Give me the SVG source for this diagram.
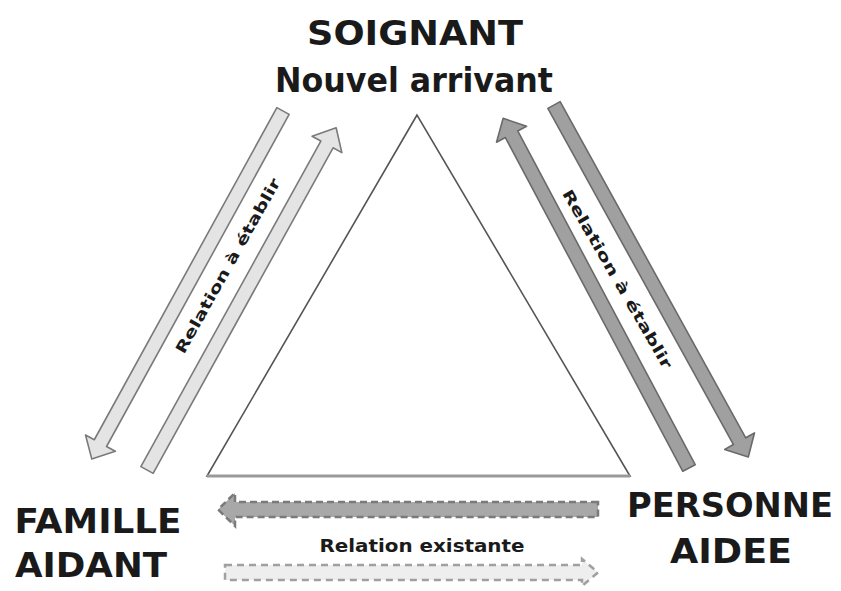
<svg xmlns="http://www.w3.org/2000/svg" width="841" height="591" viewBox="0 0 841 591">
<style>
.t{font-family:"DejaVu Sans","Liberation Sans",sans-serif;font-weight:bold;fill:#1a1a1a;text-anchor:middle}
.big{font-size:33px}
.lbl{font-size:15px}
.light{fill:#e4e4e4;stroke:#7a7a7a;stroke-width:1.6;stroke-linejoin:round}
.dark{fill:#a0a0a0;stroke:#6a6a6a;stroke-width:1.6;stroke-linejoin:round}
.dash1{fill:#a8a8a8;stroke:#7a7a7a;stroke-width:2.5;stroke-dasharray:7 4}
.dash2{fill:#eeeeee;stroke:#a0a0a0;stroke-width:2.5;stroke-dasharray:7 5}
</style>
<rect width="841" height="591" fill="#ffffff"/>
<g id="triangle">
<polygon points="417,115 207,476 630,476" fill="#ffffff" stroke="#555555" stroke-width="1.6"/>
<line x1="207" y1="476" x2="630" y2="476" stroke="#999999" stroke-width="3"/>
</g>
<g id="soignant">
<text class="t big" x="415" y="45" textLength="216" lengthAdjust="spacingAndGlyphs">SOIGNANT</text>
<text class="t big" x="414" y="92" textLength="278" lengthAdjust="spacingAndGlyphs">Nouvel arrivant</text>
</g>
<g id="famille">
<text class="t big" x="98" y="533" font-size="37" textLength="167" lengthAdjust="spacingAndGlyphs">FAMILLE</text>
<text class="t big" x="91" y="577" font-size="37" textLength="152" lengthAdjust="spacingAndGlyphs">AIDANT</text>
</g>
<g id="personne">
<text class="t big" x="730" y="517" textLength="206" lengthAdjust="spacingAndGlyphs">PERSONNE</text>
<text class="t big" x="731" y="563" textLength="122" lengthAdjust="spacingAndGlyphs">AIDEE</text>
</g>
<g id="connectors">
<polygon class="light" transform="translate(283,111) rotate(118.8)" points="0,-7 379,-7 379,-17 397,0 379,17 379,7 0,7"/>
<polygon class="light" transform="translate(147,470) rotate(-61.07)" points="0,-7 372,-7 372,-17 391,0 372,17 372,7 0,7"/>
<polygon class="dark" transform="translate(689,468) rotate(-118)" points="0,-7 378,-7 378,-17 396,0 378,17 378,7 0,7"/>
<polygon class="dark" transform="translate(554,105) rotate(61.1)" points="0,-7 384,-7 384,-17 402,0 384,17 384,7 0,7"/>
<polygon class="dash1" points="598,502 235,502 235,493 218,509.5 235,526 235,517 598,517"/>
<polygon class="dash2" points="225,565 582,565 582,559 598,572.5 582,586 582,580 225,580"/>
<text class="t lbl" transform="translate(228,266) rotate(-60.7)" y="5" textLength="198" lengthAdjust="spacingAndGlyphs">Relation à établir</text>
<text class="t lbl" transform="translate(617,279) rotate(60)" y="5" textLength="204" lengthAdjust="spacingAndGlyphs">Relation à établir</text>
<text class="t" x="422" y="552" font-size="18" textLength="205" lengthAdjust="spacingAndGlyphs">Relation existante</text>
</g>
</svg>
